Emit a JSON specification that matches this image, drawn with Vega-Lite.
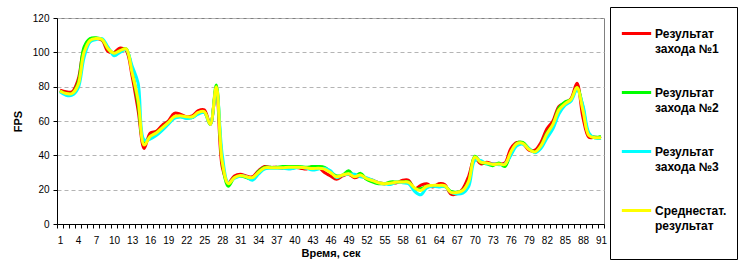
{
  "$schema": "https://vega.github.io/schema/vega-lite/v6.json",
  "width": 547,
  "height": 206,
  "autosize": {"type": "none"},
  "padding": {"left": 57, "top": 18, "right": 142, "bottom": 48},
  "background": "white",
  "config": {
    "font": "Liberation Sans",
    "view": {"stroke": "#808080", "strokeWidth": 1}
  },
  "data": {"values": [
    {"t":1,"r1":78,"r2":77.5,"r3":77,"avg":77.5},
    {"t":2,"r1":77,"r2":76,"r3":75,"avg":76},
    {"t":3,"r1":77,"r2":76,"r3":75,"avg":76},
    {"t":4,"r1":84,"r2":82,"r3":79,"avg":81},
    {"t":5,"r1":102,"r2":103,"r3":97,"avg":100},
    {"t":6,"r1":107.5,"r2":108,"r3":106,"avg":107},
    {"t":7,"r1":108,"r2":108.5,"r3":107.5,"avg":108},
    {"t":8,"r1":107,"r2":107.5,"r3":108,"avg":107.5},
    {"t":9,"r1":100.5,"r2":102,"r3":103,"avg":102},
    {"t":10,"r1":100,"r2":99.5,"r3":98,"avg":99.5},
    {"t":11,"r1":102.5,"r2":101,"r3":100,"avg":101},
    {"t":12,"r1":101,"r2":102,"r3":101.5,"avg":102},
    {"t":13,"r1":86,"r2":89,"r3":92,"avg":88},
    {"t":14,"r1":66,"r2":70,"r3":82,"avg":72},
    {"t":15,"r1":44,"r2":47,"r3":49,"avg":46},
    {"t":16,"r1":53,"r2":51,"r3":49.5,"avg":51},
    {"t":17,"r1":54,"r2":53,"r3":51.5,"avg":53},
    {"t":18,"r1":57.5,"r2":56,"r3":54.5,"avg":56},
    {"t":19,"r1":60,"r2":59,"r3":58,"avg":59},
    {"t":20,"r1":64.5,"r2":62,"r3":61.5,"avg":62.5},
    {"t":21,"r1":64,"r2":62.5,"r3":62.5,"avg":63},
    {"t":22,"r1":62.5,"r2":62,"r3":61.5,"avg":62.5},
    {"t":23,"r1":63,"r2":62,"r3":62,"avg":62.5},
    {"t":24,"r1":66,"r2":64.5,"r3":64,"avg":65},
    {"t":25,"r1":66.5,"r2":65,"r3":65,"avg":65.5},
    {"t":26,"r1":58,"r2":58,"r3":58,"avg":58},
    {"t":27,"r1":79,"r2":81,"r3":79,"avg":80},
    {"t":28,"r1":33,"r2":36,"r3":40,"avg":36},
    {"t":29,"r1":24,"r2":22,"r3":24,"avg":23.5},
    {"t":30,"r1":28,"r2":27,"r3":26.5,"avg":27},
    {"t":31,"r1":29,"r2":28,"r3":28,"avg":28.3},
    {"t":32,"r1":28,"r2":27,"r3":27.5,"avg":27.5},
    {"t":33,"r1":27.5,"r2":26,"r3":25.5,"avg":27},
    {"t":34,"r1":31,"r2":30.5,"r3":29,"avg":30},
    {"t":35,"r1":33.5,"r2":33,"r3":32,"avg":32.7},
    {"t":36,"r1":33,"r2":33,"r3":32.5,"avg":32.8},
    {"t":37,"r1":33,"r2":33,"r3":32.5,"avg":32.8},
    {"t":38,"r1":32.5,"r2":33.5,"r3":32.5,"avg":32.7},
    {"t":39,"r1":32.5,"r2":33.5,"r3":32,"avg":33},
    {"t":40,"r1":33,"r2":33.5,"r3":32.5,"avg":33},
    {"t":41,"r1":32.5,"r2":33.5,"r3":33,"avg":33},
    {"t":42,"r1":32,"r2":33,"r3":32.5,"avg":32.7},
    {"t":43,"r1":33.5,"r2":33.5,"r3":31.5,"avg":32.3},
    {"t":44,"r1":33,"r2":33.5,"r3":32,"avg":32.5},
    {"t":45,"r1":30,"r2":33,"r3":32.5,"avg":32},
    {"t":46,"r1":28,"r2":30.5,"r3":31,"avg":30},
    {"t":47,"r1":26,"r2":28,"r3":27,"avg":27.5},
    {"t":48,"r1":28,"r2":28.5,"r3":28.5,"avg":28.5},
    {"t":49,"r1":29,"r2":31,"r3":29,"avg":29.3},
    {"t":50,"r1":27,"r2":28,"r3":29,"avg":27.5},
    {"t":51,"r1":28,"r2":29.5,"r3":27.5,"avg":28.5},
    {"t":52,"r1":26.5,"r2":26,"r3":27,"avg":26.5},
    {"t":53,"r1":25.5,"r2":24.5,"r3":25.5,"avg":25.3},
    {"t":54,"r1":24,"r2":23.5,"r3":24,"avg":24},
    {"t":55,"r1":23.5,"r2":23.5,"r3":23.5,"avg":23.5},
    {"t":56,"r1":24,"r2":24.5,"r3":23,"avg":23.8},
    {"t":57,"r1":24,"r2":24.5,"r3":24.5,"avg":24.4},
    {"t":58,"r1":25.5,"r2":24.5,"r3":24,"avg":24.5},
    {"t":59,"r1":25.5,"r2":24.5,"r3":23.5,"avg":24.3},
    {"t":60,"r1":20.5,"r2":20.5,"r3":19,"avg":21},
    {"t":61,"r1":22.5,"r2":20.5,"r3":17,"avg":19.5},
    {"t":62,"r1":23.5,"r2":22,"r3":21,"avg":22},
    {"t":63,"r1":21.5,"r2":22.5,"r3":22,"avg":22.5},
    {"t":64,"r1":23.5,"r2":22,"r3":21.5,"avg":22.5},
    {"t":65,"r1":23,"r2":22,"r3":22,"avg":22.4},
    {"t":66,"r1":17.5,"r2":19,"r3":18.5,"avg":18.5},
    {"t":67,"r1":17.5,"r2":18.5,"r3":17.5,"avg":18.3},
    {"t":68,"r1":20.5,"r2":19.5,"r3":18,"avg":19.5},
    {"t":69,"r1":28,"r2":25,"r3":22,"avg":25},
    {"t":70,"r1":38.5,"r2":39.5,"r3":37,"avg":39},
    {"t":71,"r1":35,"r2":36,"r3":37,"avg":36},
    {"t":72,"r1":36,"r2":35,"r3":35,"avg":35.5},
    {"t":73,"r1":35,"r2":34,"r3":35,"avg":34.7},
    {"t":74,"r1":35,"r2":35.5,"r3":34.5,"avg":35},
    {"t":75,"r1":35.5,"r2":33.5,"r3":35,"avg":34.7},
    {"t":76,"r1":44,"r2":41,"r3":40,"avg":42},
    {"t":77,"r1":47.5,"r2":47,"r3":45.5,"avg":46.8},
    {"t":78,"r1":47,"r2":47.5,"r3":46.5,"avg":47},
    {"t":79,"r1":43,"r2":44,"r3":44,"avg":43.5},
    {"t":80,"r1":43,"r2":42,"r3":41.5,"avg":42},
    {"t":81,"r1":47.5,"r2":45.5,"r3":44,"avg":45.5},
    {"t":82,"r1":55.5,"r2":53,"r3":50,"avg":52.5},
    {"t":83,"r1":60,"r2":58,"r3":55.5,"avg":58},
    {"t":84,"r1":68.5,"r2":67.5,"r3":64,"avg":66.5},
    {"t":85,"r1":70.5,"r2":71,"r3":69,"avg":70},
    {"t":86,"r1":73,"r2":72.5,"r3":71.5,"avg":72.5},
    {"t":87,"r1":82,"r2":79.5,"r3":78,"avg":79.5},
    {"t":88,"r1":62,"r2":68,"r3":69,"avg":66},
    {"t":89,"r1":50.5,"r2":52,"r3":53,"avg":51.5},
    {"t":90,"r1":50.5,"r2":50.5,"r3":50,"avg":50.3},
    {"t":91,"r1":50,"r2":51,"r3":50,"avg":50.3}
  ]},
  "transform": [{"fold": ["r1", "r2", "r3", "avg"], "as": ["series", "fps"]}],
  "mark": {"type": "line", "interpolate": "catmull-rom"},
  "encoding": {
    "x": {
      "field": "t", "type": "ordinal", "bandPosition": 0.5,
      "scale": {"type": "band", "paddingInner": 0, "paddingOuter": 0},
      "axis": {
        "title": "Время, сек", "titleFontSize": 11, "titleFontWeight": "bold", "titleColor": "#000", "titlePadding": 2,
        "labelAngle": 0, "labelFontSize": 10, "labelColor": "#000", "labelPadding": 7, "labelOverlap": false, "labelFlush": false,
        "labelExpr": "(datum.value - 1) % 3 == 0 ? datum.label : ''",
        "tickBand": "extent", "tickColor": "#000", "tickSize": 4, "domainColor": "#000", "grid": false
      }
    },
    "y": {
      "field": "fps", "type": "quantitative",
      "scale": {"domain": [0, 120], "nice": false},
      "axis": {
        "title": "FPS", "titleFontSize": 11, "titleFontWeight": "bold", "titleColor": "#000", "titlePadding": 9,
        "values": [0, 20, 40, 60, 80, 100, 120],
        "labelFontSize": 10, "labelColor": "#000", "labelPadding": 4,
        "tickColor": "#000", "tickSize": 4, "domainColor": "#000",
        "grid": true, "gridColor": "#b4b4b4", "gridDash": [4, 3]
      }
    },
    "color": {
      "field": "series", "type": "nominal",
      "scale": {"domain": ["r1", "r2", "r3", "avg"], "range": ["#ff0000", "#00ff00", "#00ffff", "#ffff00"]},
      "legend": {
        "orient": "none", "legendX": 553, "legendY": -11,
        "title": " ", "titleOrient": "bottom", "titleFontSize": 12, "titlePadding": 6,
        "padding": 10, "strokeColor": "#000", "fillColor": "white",
        "symbolType": "stroke", "symbolSize": 860, "symbolStrokeWidth": 3,
        "labelFontSize": 12, "labelFontWeight": "bold", "labelColor": "#000", "labelOffset": 2,
        "labelBaseline": "alphabetic", "rowPadding": 21, "labelLimit": 200,
        "labelExpr": "datum.value == 'avg' ? ['Среднестат.', 'результат'] : ['Результат', 'захода №' + slice(datum.value, 1)]",
        "encode": {"labels": {"update": {"dy": {"value": 4}, "lineHeight": {"value": 15}}}}
      }
    },
    "strokeWidth": {
      "field": "series", "type": "nominal",
      "scale": {"domain": ["r1", "r2", "r3", "avg"], "range": [3, 3, 3, 4]},
      "legend": null
    }
  }
}
